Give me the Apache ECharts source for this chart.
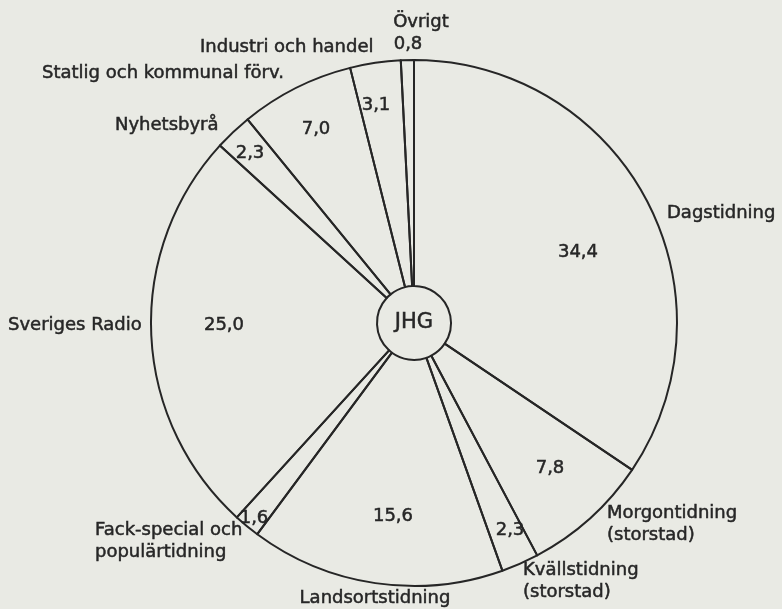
<!DOCTYPE html>
<html>
<head>
<meta charset="utf-8">
<script src="https://cdn.jsdelivr.net/npm/echarts@6/dist/echarts.min.js"></script>
<style>
    html, body { margin: 0; padding: 0; background: #e9eae4; }
    #chart { width: 782px; height: 609px; }
</style>
</head>
<body>
<div id="chart"></div>
<script>
// 类别（从正上方顺时针）
const categories = [
    'Dagstidning',
    'Morgontidning\n(storstad)',
    'Kvällstidning\n(storstad)',
    'Landsortstidning',
    'Fack-special och\npopulärtidning',
    'Sveriges Radio',
    'Nyhetsbyrå',
    'Statlig och kommunal förv.',
    'Industri och handel',
    'Övrigt'
];

// 百分比
const shares = [34.4, 7.8, 2.3, 15.6, 1.6, 25.0, 2.3, 7.0, 3.1, 0.8];

const centerText = 'JHG';

// 标签位置（像素）
const valueLabelAt = [
    [578, 252], [550, 468], [510, 530], [393, 516], [254, 518],
    [224, 325], [250, 153], [316, 129], [376, 105], [408, 44]
];
const nameLabelAt = [
    [667, 213, 'left'], [607, 524, 'left'], [523, 581, 'left'], [375, 598, 'center'],
    [95, 541, 'left'], [8, 325, 'left'], [115, 125, 'left'], [42, 73, 'left'],
    [200, 47, 'left'], [421, 22, 'center']
];

const INK = '#262626';
const FONT = '"DejaVu Sans", Verdana, sans-serif';
const CENTER = [414, 323];

const pieData = categories.map((name, i) => ({ name: name, value: shares[i] }));

function fmt(v) {
    return v.toFixed(1).replace('.', ',');
}

// 文字样式（略加粗）
const textStyle = {
    color: INK,
    fontFamily: FONT,
    fontSize: 18,
    textBorderColor: INK,
    textBorderWidth: 0.5
};

const chart = echarts.init(document.getElementById('chart'), null, { renderer: 'canvas' });

chart.setOption({
    backgroundColor: '#e9eae4',
    animation: false,
    series: [
        {
            // 扇区 + 数值
            type: 'pie',
            center: CENTER,
            radius: [37, 263],
            startAngle: 90,
            clockwise: true,
            avoidLabelOverlap: false,
            silent: true,
            itemStyle: {
                color: 'rgba(0,0,0,0)',
                borderColor: INK,
                borderWidth: 2
            },
            label: Object.assign({
                show: true,
                position: 'inside',
                formatter: p => fmt(p.value)
            }, textStyle),
            labelLine: { show: false },
            labelLayout: function(params) {
                const p = valueLabelAt[params.dataIndex];
                return { x: p[0], y: p[1], align: 'center', verticalAlign: 'middle' };
            },
            data: pieData
        },
        {
            // 类别名称
            type: 'pie',
            center: CENTER,
            radius: [37, 263],
            startAngle: 90,
            clockwise: true,
            avoidLabelOverlap: false,
            silent: true,
            itemStyle: {
                color: 'rgba(0,0,0,0)',
                borderWidth: 0
            },
            label: Object.assign({
                show: true,
                position: 'inside',
                lineHeight: 22,
                formatter: '{b}'
            }, textStyle),
            labelLine: { show: false },
            labelLayout: function(params) {
                const p = nameLabelAt[params.dataIndex];
                return { x: p[0], y: p[1], align: p[2], verticalAlign: 'middle' };
            },
            data: pieData
        },
        {
            // 中心 JHG
            type: 'pie',
            center: CENTER,
            radius: [0, 36],
            silent: true,
            itemStyle: { color: 'rgba(0,0,0,0)' },
            label: Object.assign({}, textStyle, {
                show: true,
                position: 'center',
                fontSize: 21,
                formatter: '{b}'
            }),
            labelLine: { show: false },
            data: [{ name: centerText, value: 1 }]
        }
    ]
});
</script>
</body>
</html>
